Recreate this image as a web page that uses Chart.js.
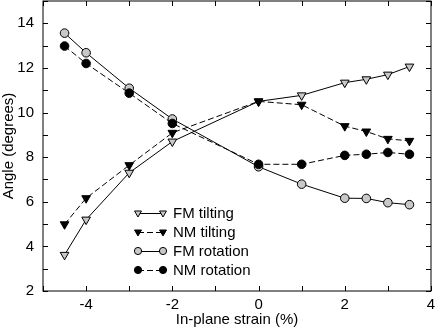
<!DOCTYPE html>
<html>
<head>
<meta charset="utf-8">
<script src="https://cdn.jsdelivr.net/npm/chart.js@4"></script>
<style>
  html, body { margin: 0; padding: 0; background: #fff; }
  #wrap { width: 436px; height: 329px; position: relative; }
</style>
</head>
<body>
<div id="wrap"><canvas id="chart"></canvas></div>
<script>
// 歪み (%)
const strain = [-4.5, -4, -3, -2, 0, 1, 2, 2.5, 3, 3.5];

// 角度 (degrees)
const fmTilting  = [3.62, 5.2, 7.3, 8.7, 10.5, 10.77, 11.34, 11.49, 11.7, 12.06];
const nmTilting  = [4.99, 6.16, 7.64, 9.09, 10.5, 10.35, 9.39, 9.15, 8.82, 8.73];
const fmRotation = [13.56, 12.68, 11.09, 9.71, 7.57, 6.79, 6.16, 6.15, 5.96, 5.87];
const nmRotation = [12.98, 12.2, 10.87, 9.51, 7.68, 7.68, 8.08, 8.13, 8.21, 8.13];

const seriesNames = ['FM tilting', 'NM tilting', 'FM rotation', 'NM rotation'];

const FONT = '"Liberation Sans", Arial, Helvetica, sans-serif';
const FSIZE = 15;
const GRAY = '#c8c8c8';

const toPoints = ys => strain.map((x, i) => ({ x: x, y: ys[i] }));

function makeDataset(label, ys, fill, dashed, style, order) {
    return {
        label: label,
        data: toPoints(ys),
        borderColor: '#000',
        borderWidth: 1,
        borderDash: dashed ? [6, 3] : [],
        backgroundColor: fill,
        pointBackgroundColor: fill,
        pointBorderColor: '#000',
        pointBorderWidth: 1,
        pointStyle: style,
        pointRotation: style === 'triangle' ? 180 : 0,
        pointRadius: style === 'triangle' ? 5 : 4.3,
        tension: 0,
        order: order
    };
}

// 内向きの目盛り + 枠 + 凡例
const frameTicks = {
    id: 'frameTicks',
    afterDatasetsDraw(chart) {
        const { ctx, chartArea: a, scales } = chart;
        const len = 5;
        ctx.save();
        ctx.strokeStyle = '#000';
        ctx.lineWidth = 1;
        ctx.strokeRect(a.left, a.top, a.right - a.left, a.bottom - a.top);
        ctx.beginPath();
        scales.x.ticks.forEach(t => {
            const px = Math.round(scales.x.getPixelForValue(t.value)) + 0.5;
            ctx.moveTo(px, a.bottom); ctx.lineTo(px, a.bottom - len);
            ctx.moveTo(px, a.top); ctx.lineTo(px, a.top + len);
        });
        scales.y.ticks.forEach(t => {
            const py = Math.round(scales.y.getPixelForValue(t.value)) + 0.5;
            ctx.moveTo(a.left, py); ctx.lineTo(a.left + len, py);
            ctx.moveTo(a.right, py); ctx.lineTo(a.right - len, py);
        });
        ctx.stroke();

        // 凡例
        const x0 = 138, x1 = 163, tx = 173;
        const rows = [213, 232, 251, 270];
        ctx.font = FSIZE + 'px ' + FONT;
        ctx.textBaseline = 'middle';
        chart.data.datasets.forEach((ds, i) => {
            const y = rows[i];
            ctx.save();
            ctx.setLineDash(ds.borderDash);
            ctx.beginPath();
            ctx.moveTo(x0, y + 0.5); ctx.lineTo(x1, y + 0.5);
            ctx.stroke();
            ctx.restore();
            const opts = {
                pointStyle: ds.pointStyle,
                rotation: ds.pointRotation,
                radius: ds.pointStyle === 'triangle' ? 4 : 3.6,
                borderWidth: 1
            };
            ctx.fillStyle = ds.pointBackgroundColor;
            ctx.strokeStyle = '#000';
            Chart.helpers.drawPoint(ctx, opts, x0, y);
            ctx.fillStyle = ds.pointBackgroundColor;
            ctx.strokeStyle = '#000';
            Chart.helpers.drawPoint(ctx, opts, x1, y);
            ctx.fillStyle = '#000';
            ctx.fillText(ds.label, tx, y + 1);
        });
        ctx.restore();
    }
};

const chart = new Chart(document.getElementById('chart'), {
    type: 'line',
    data: {
        datasets: [
            makeDataset(seriesNames[0], fmTilting, GRAY, false, 'triangle', 4),
            makeDataset(seriesNames[1], nmTilting, '#000', true, 'triangle', 3),
            makeDataset(seriesNames[2], fmRotation, GRAY, false, 'circle', 2),
            makeDataset(seriesNames[3], nmRotation, '#000', true, 'circle', 1)
        ]
    },
    options: {
        responsive: true,
        maintainAspectRatio: false,
        animation: false,
        layout: {
            autoPadding: false,
            padding: { top: 1, right: 5, bottom: 0, left: 0 }
        },
        plugins: {
            legend: { display: false },
            tooltip: { enabled: false }
        },
        scales: {
            x: {
                type: 'linear',
                min: -5,
                max: 4,
                grid: { display: false, drawTicks: false },
                border: { display: false },
                ticks: {
                    stepSize: 1,
                    padding: 5,
                    color: '#000',
                    font: { family: FONT, size: FSIZE },
                    maxRotation: 0,
                    autoSkip: false,
                    callback: v => (v % 2 === 0 ? String(v) : '')
                },
                title: {
                    display: true,
                    text: 'In-plane strain (%)',
                    color: '#000',
                    font: { family: FONT, size: FSIZE },
                    padding: { top: 0, bottom: 0 }
                },
                afterFit: s => {
                    s.height = 38;
                    s.paddingLeft = 0;
                    s.paddingRight = 0;
                }
            },
            y: {
                min: 2,
                max: 15,
                grid: { display: false, drawTicks: false },
                border: { display: false },
                ticks: {
                    stepSize: 1,
                    padding: 9,
                    color: '#000',
                    font: { family: FONT, size: FSIZE },
                    autoSkip: false,
                    callback: v => (v % 2 === 0 ? String(v) : '')
                },
                title: {
                    display: true,
                    text: 'Angle (degrees)',
                    color: '#000',
                    font: { family: FONT, size: FSIZE },
                    padding: { top: 0, bottom: 0 }
                },
                afterFit: s => {
                    s.width = 43;
                    s.paddingTop = 0;
                    s.paddingBottom = 0;
                }
            }
        }
    },
    plugins: [frameTicks]
});
</script>
</body>
</html>
